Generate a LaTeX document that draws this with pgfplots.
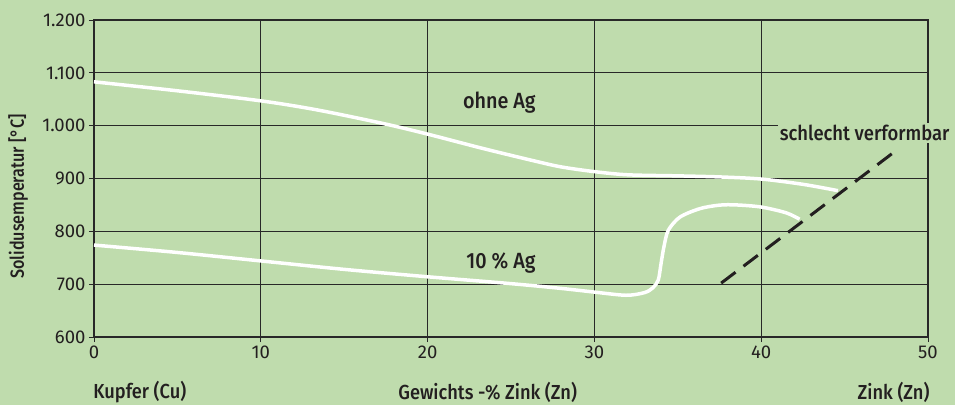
\documentclass[border=0pt]{standalone}
\usepackage{pgfplots}
\pgfplotsset{compat=1.18}
\usepackage{fontspec}
\setmainfont{Fira Sans}
\newfontfamily\medfont[FakeStretch=0.9]{Fira Sans Medium}
\newfontfamily\ylabfont[FakeStretch=0.85]{Fira Sans Medium}
\definecolor{bg}{RGB}{191,220,173}
\definecolor{txt}{RGB}{35,31,32}
\definecolor{gridc}{RGB}{40,40,40}
\begin{document}
\begin{tikzpicture}
\path[use as bounding box, fill=bg] (0,0) rectangle (955pt,405pt);
\begin{axis}[
  at={(94pt,68pt)}, anchor=south west,
  scale only axis, width=834pt, height=317pt,
  xmin=0, xmax=50, ymin=600, ymax=1200,
  xtick={0,10,...,50}, ytick={600,700,...,1200},
  xtick pos=bottom, ytick pos=left,
  tick align=outside, major tick length=5pt,
  grid=major,
  major grid style={draw=gridc, line width=1.2pt},
  axis line style={draw=gridc, line width=1.2pt},
  tick style={draw=gridc, line width=1pt},
  /pgf/number format/assume math mode=true,
  /pgf/number format/1000 sep={.},
  ticklabel style={font=\fontsize{18.5}{18.5}\selectfont, text=txt},
  xlabel={Gewichts -\% Zink (Zn)},
  xlabel style={font=\medfont\fontsize{20.3}{20.3}\selectfont, text=txt,
    at={(axis description cs:0.472,-0.174)}, anchor=center},
  ylabel={Solidusemperatur [°C]},
  ylabel style={font=\ylabfont\fontsize{19}{19}\selectfont, text=txt,
    at={(axis description cs:-0.091,0.443)}, anchor=center, rotate=0},
  clip=false,
]
% ohne Ag
\addplot[white, line width=3.5pt, smooth, tension=0.5] coordinates {
(0,1083) (5,1066) (10,1047) (13.35,1030) (17.35,1004) (20,984) (23.3,957)
(26.3,934) (28,922) (30,913) (32,907) (35,905) (37.5,903) (40,899)
(42.5,889) (44.6,877)};
% 10 % Ag
\addplot[white, line width=3.5pt, smooth, tension=0.5] coordinates {
(0,774) (5,760) (10,744) (15,728) (20,714) (25,701) (28,692) (30,685)
(31.9,679) (33.0,684) (33.5,693) (33.83,708) (34.0,740) (34.17,771)
(34.43,802) (35.13,827) (36.33,843) (37.5,849.6) (38.5,850) (40,846)
(41.5,835) (42.3,823)};
% schlecht verformbar
\addplot[draw=txt, line width=3pt, dash pattern=on 18pt off 10pt] coordinates {
(37.6,702) (48.3,958)};
\node[font=\medfont\fontsize{22}{22}\selectfont, text=txt]
  at (axis cs:24.3,1043) {ohne Ag};
\node[font=\medfont\fontsize{22}{22}\selectfont, text=txt]
  at (axis cs:24.4,740) {10 \% Ag};
\node[font=\medfont\fontsize{20.5}{20.5}\selectfont, text=txt, fill=bg, inner sep=2pt]
  at (axis cs:46.2,986) {schlecht verformbar};
\node[font=\medfont\fontsize{20.3}{20.3}\selectfont, text=txt, anchor=west]
  at (axis description cs:-0.005,-0.174) {Kupfer (Cu)};
\node[font=\medfont\fontsize{20.3}{20.3}\selectfont, text=txt, anchor=east]
  at (axis description cs:1.006,-0.174) {Zink (Zn)};
\end{axis}
\end{tikzpicture}
\end{document}
